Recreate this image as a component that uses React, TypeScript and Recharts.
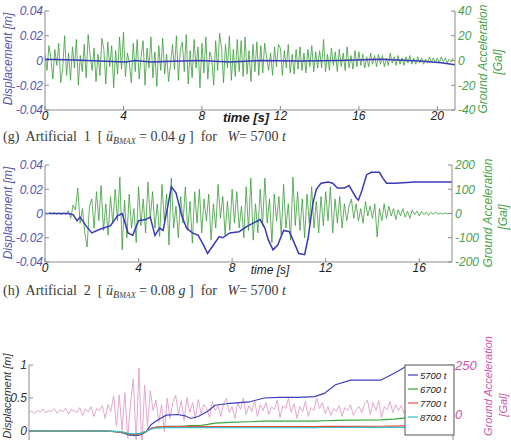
import { ComposedChart, Line, XAxis, YAxis } from "recharts";

const SANS = '"Liberation Sans", Arial, sans-serif';
const SERIF = '"Liberation Serif", "Times New Roman", serif';
const FRAME = "#8c8c8c";
const BLUE = "#3a3ab8";
const GREEN = "#3c9c3c";
const PINK = "#e3a8d0";
const INDIGO_TXT = "#5656b0";
const GREEN_TXT = "#4aa34a";
const MAGENTA_TXT = "#cc55aa";

// ---- (g) Artificial 1 ----
const time1Ticks = [0, 4, 8, 12, 16, 20];
const disp1Ticks = [-0.04, -0.02, 0, 0.02, 0.04];
const acc1Ticks = [-40, -20, 0, 20, 40];
const acc1Dt = 0.1;
const acc1 = [
  5, -8, 12, 2, -15, 9, -4, 14, -18, -7,
  20, -12, 6, -16, 11, -6, 17, -20, 4, -9,
  13, -14, 21, 4, -8, 10, -17, 5, -12, 18,
  9, -19, 15, -5, 12, -22, 8, -11, 19, -7,
  23, -13, 6, -2, -18, 14, -9, 17, -15, 3,
  16, -20, 10, -6, 19, -14, 7, -21, 12, -8,
  18, -11, 5, -17, -3, 13, -7, 20, -16, 9,
  15, -9, 21, -19, 8, -14, 17, -6, 11, -22,
  14, -10, 19, -15, 7, 1, -20, 16, -8, 22,
  10, -18, 13, -6, 20, -16, 9, -13, 17, -9,
  16, -13, 19, -11, 8, -17, 13, -9, 15, -12,
  12, -10, 14, 2, -8, 6, -12, 11, -5, 13,
  10, -12, 8, -6, 13, -10, 5, -11, 9, -7,
  11, -8, 6, -10, 9, -5, 12, -9, 7, -6,
  8, -6, 17, -9, 5, -8, 10, -4, 7, -9,
  9, -5, 6, -8, 11, -6, 4, -7, 8, -5,
  7, -4, 5, -6, 3, -5, 6, -3, 4, -5,
  5, -3, 4, -5, 2, -4, 6, -2, 3, -4,
  4, -3, 2, -4, 3, -2, 4, -3, 2, -3,
  3, -2, 2, -3, 1, -2, 3, -1, 2, -2,
  2, -2, 3, -1, 2, -2, 1, -1, 2,
];
const disp1Time = [0, 1.5, 2.8, 4.1, 4.6, 5.4, 6.5, 7.9, 9.4, 11, 13, 15, 17.1, 19.1, 20.2, 20.9];
const disp1 = [0.001, 0.0005, -0.0005, -0.0012, 0, -0.0012, -0.0006, 0, -0.0013, 0, -0.0005, 0, 0.001, -0.0004, -0.0018, -0.0035];

// ---- (h) Artificial 2 ----
const time2Ticks = [0, 4, 8, 12, 16];
const acc2Ticks = [-200, -100, 0, 100, 200];
const acc2Dt = 0.1;
const acc2 = [
  2, -3, 4, -2, 5, -4, 3, -6, 4, -5,
  12, -20, 35, 15, 105, -40, 20, -80, -138, 30,
  60, -60, 90, -30, 115, -70, 40, -90, 70, -40,
  100, -30, 150, -150, 55, -100, 80, -60, 20, -120,
  110, -50, 60, -80, 130, -20, 90, -60, 40, -95,
  120, -30, 80, -130, 146, -60, 30, -100, 70, -40,
  110, -70, 50, -122, 90, -40, 100, -80, 60, -30,
  80, -110, 40, -60, 120, -20, 70, -90, 50, -70,
  100, -40, 90, -60, 30, -100, 110, -70, 146, -110,
  40, -80, 100, -50, 146, -40, 60, -120, 80, -30,
  70, -90, 120, -60, 40, -110, 150, -50, 90, -70,
  60, -100, 80, -40, 110, -60, 50, -80, 70, -50,
  90, -30, 110, -80, 60, -40, 70, -60, 40, -30,
  30, 60, -20, 40, -30, 20, -40, 50, -10, 30,
  -20, 40, -97, 20, -30, 40, -20, 30, -10, 20,
  -25, 15, -10, 20, -15, 10, -20, 15, -5, 10,
  -10, 8, -5, 6, -8, 5, -4, 6, -3, 2,
  -3, 2, -1, 1, 0,
];
const disp2Time = [
  0, 0.5, 1.0, 1.2, 1.37, 1.5, 1.75, 2.0, 2.35, 2.8, 3.1, 3.3, 3.55, 3.75, 4.0, 4.3, 4.5, 4.7, 4.9, 5.05,
  5.25, 5.4, 5.6, 5.85, 6.05, 6.3, 6.55, 6.75, 6.95, 7.2, 7.45, 7.6, 7.9, 8.3, 8.6, 8.9, 9.2, 9.4, 9.55, 9.75,
  9.95, 10.2, 10.45, 10.65, 10.85, 11.1, 11.25, 11.45, 11.6, 11.8, 12.1, 12.3, 12.5, 12.8, 13.0, 13.15, 13.3, 13.4, 13.55, 13.75,
  13.95, 14.3, 14.45, 14.6, 15.0, 15.8, 16.5, 17.4,
];
const disp2 = [
  0, 0, 0, -0.001, -0.006, -0.003, -0.01, -0.016, -0.013, -0.01, -0.002, 0, -0.016, -0.018, -0.006, -0.005, -0.003, -0.018, -0.012, -0.014,
  0.006, 0.022, 0.017, -0.002, -0.012, -0.016, -0.018, -0.025, -0.033, -0.026, -0.019, -0.02, -0.016, -0.015, -0.011, -0.008, -0.005, -0.012, -0.022, -0.03,
  -0.026, -0.014, -0.015, -0.024, -0.033, -0.034, -0.02, 0.008, 0.02, 0.025, 0.026, 0.025, 0.021, 0.021, 0.023, 0.018, 0.013, 0.011, 0.019, 0.032,
  0.034, 0.034, 0.029, 0.025, 0.025, 0.026, 0.026, 0.026,
];

// ---- weight comparison (only the upper part is on the page) ----
const time3Ticks = [0, 5, 10, 15, 20];
const disp3Ticks = [0, 0.5, 1];
const acc3Ticks = [0, 250];
const acc3Dt = 0.15;
const acc3 = [
  10, 18, 5, 22, 12, 28, 8, 20, 15, 30, 6, 24, 14, 32, 2, 26, 18, 10, 35, -5,
  28, 12, 40, -10, 30, 20, 45, -20, 50, 15,
  95, -60, 98, -80, 110, -120, 60, 180, -150, 235, -180, 150, -60, 120, 20, 72, -40, 50, -87, 82,
  -20, 60, 98, 0, 70, -30, 85, 10, 60, -20, 75, 5, 50, 30, -15, 65, 20, 45, -10, 55,
  82, 10, 40, -20, 60, 25, 82, 0, 45, 15, 70, -10, 50, 20, 60, 0, 40, 25, 72, -15,
  45, 30, 82, 10, 55, -20, 40, 15, 65, -10, 35, 20, 82, 30, 60, 5, 40, -5, 30, 15,
  45, -10, 35, 20, 50, -5, 25, 40, 10, 55, 72, 0, 60, 20, 70, -15, 40, 25, 65, 10,
  50, 20, 45, 5, 35, 15, 40, 10, 30, 20, 35, 15, 25, 10, 30, 20, 25, 15, 20, 10, 15,
];
const weights = ["5700 t", "6700 t", "7700 t", "8700 t"];
const weightColors = ["#3c3cc4", "#3aa63a", "#f04848", "#30c4c4"];
const disp3Time = [0, 2, 4, 4.6, 5.0, 5.3, 5.6, 5.9, 6.2, 6.5, 6.8, 7.3, 7.9, 8.3, 8.6, 9.0, 9.5, 9.9, 10.7, 11.7, 12.5, 13.3, 14.3, 15.2, 15.7, 16.3, 17.1, 18.7, 19.4, 20.0, 21.0, 22.55];
const disp5700 = [0, 0, 0, -0.01, -0.03, -0.06, -0.07, -0.06, -0.02, 0.1, 0.16, 0.24, 0.25, 0.23, 0.19, 0.22, 0.3, 0.39, 0.42, 0.44, 0.5, 0.51, 0.51, 0.52, 0.57, 0.7, 0.77, 0.77, 0.87, 0.97, 1.0, 1.0];
const disp6700 = [0, 0, 0, -0.01, -0.025, -0.05, -0.06, -0.05, -0.01, 0.04, 0.06, 0.07, 0.07, 0.075, 0.08, 0.08, 0.1, 0.12, 0.13, 0.14, 0.15, 0.15, 0.15, 0.15, 0.155, 0.16, 0.165, 0.17, 0.18, 0.2, 0.21, 0.22];
const disp7700 = [0, 0, 0, -0.008, -0.02, -0.045, -0.055, -0.045, -0.01, 0.04, 0.06, 0.065, 0.065, 0.065, 0.065, 0.065, 0.065, 0.065, 0.065, 0.065, 0.065, 0.066, 0.067, 0.068, 0.069, 0.07, 0.07, 0.072, 0.075, 0.078, 0.08, 0.08];
const disp8700 = [0, 0, 0, -0.006, -0.015, -0.035, -0.045, -0.035, -0.008, 0.03, 0.045, 0.05, 0.05, 0.05, 0.05, 0.05, 0.05, 0.05, 0.05, 0.05, 0.05, 0.051, 0.052, 0.052, 0.053, 0.053, 0.054, 0.054, 0.055, 0.055, 0.055, 0.055];

const accRows = (vals: number[], dt: number) => vals.map((a, i) => ({ t: +(i * dt).toFixed(3), a }));
const dispRows = (ts: number[], vals: number[]) => ts.map((t, i) => ({ t, d: vals[i] }));

const tickStyle = (fill: string, size = 12) => ({ fill, fontSize: size, fontStyle: "italic", fontFamily: SANS });
const blank = () => "";

// bottom + top frame (ticks point inward, like the original MATLAB plots)
function frameAxes(timeTicks: number[], tMax: number, showLabels = true) {
  return [
    <XAxis key="b" xAxisId="b" dataKey="t" type="number" domain={[0, tMax]} ticks={timeTicks} allowDataOverflow
      height={20} tickSize={-4} tickMargin={5} stroke={FRAME} tick={tickStyle("#222")}
      tickFormatter={showLabels ? undefined : blank} />,
    <XAxis key="t" xAxisId="t" orientation="top" dataKey="t" type="number" domain={[0, tMax]} ticks={timeTicks}
      allowDataOverflow height={0} tickSize={-4} stroke={FRAME} tickFormatter={blank} />,
  ];
}

export default function App() {
  const a1 = accRows(acc1, acc1Dt);
  const d1 = dispRows(disp1Time, disp1);
  const a2 = accRows(acc2, acc2Dt);
  const d2 = dispRows(disp2Time, disp2);
  const a3 = accRows(acc3, acc3Dt);
  const d3 = [disp5700, disp6700, disp7700, disp8700].map((v) => dispRows(disp3Time, v));

  const captionStyle = {
    position: "absolute" as const, left: 3, fontFamily: SERIF, fontSize: 14, lineHeight: "16px",
    whiteSpace: "pre" as const, color: "#3a3a3a",
  };
  const subStyle = { fontSize: 10, verticalAlign: "-3px" };

  return (
    <div style={{ position: "absolute", left: 0, top: 0, width: 511, height: 440, overflow: "hidden", background: "#fff" }}>
      {/* (g) */}
      <div style={{ position: "absolute", left: 0, top: 0 }}>
        <ComposedChart width={511} height={130} margin={{ top: 11, right: 0, bottom: 0, left: 0 }}>
          {frameAxes(time1Ticks, 20.9)}
          <YAxis yAxisId="l" width={45} domain={[-0.04, 0.04]} ticks={disp1Ticks} allowDataOverflow
            tickSize={-4} tickMargin={6} stroke={FRAME} tick={tickStyle(INDIGO_TXT)} />
          <YAxis yAxisId="r" orientation="right" width={56} domain={[-40, 40]} ticks={acc1Ticks} allowDataOverflow
            tickSize={-4} tickMargin={7} stroke={FRAME} tick={tickStyle(GREEN_TXT)} />
          <Line data={a1} xAxisId="b" yAxisId="r" dataKey="a" stroke={GREEN} strokeWidth={0.8} dot={false} isAnimationActive={false} />
          <Line data={d1} xAxisId="b" yAxisId="l" dataKey="d" stroke={BLUE} strokeWidth={1.5} dot={false} isAnimationActive={false} />
        </ComposedChart>
      </div>

      {/* (h) */}
      <div style={{ position: "absolute", left: 0, top: 154 }}>
        <ComposedChart width={511} height={128} margin={{ top: 11, right: 0, bottom: 0, left: 0 }}>
          {frameAxes(time2Ticks, 17.4)}
          <YAxis yAxisId="l" width={45} domain={[-0.04, 0.04]} ticks={disp1Ticks} allowDataOverflow
            tickSize={-4} tickMargin={6} stroke={FRAME} tick={tickStyle(INDIGO_TXT)} />
          <YAxis yAxisId="r" orientation="right" width={59} domain={[-200, 200]} ticks={acc2Ticks} allowDataOverflow
            tickSize={-4} tickMargin={7} stroke={FRAME} tick={tickStyle(GREEN_TXT)} />
          <Line data={a2} xAxisId="b" yAxisId="r" dataKey="a" stroke={GREEN} strokeWidth={0.8} dot={false} isAnimationActive={false} />
          <Line data={d2} xAxisId="b" yAxisId="l" dataKey="d" stroke={BLUE} strokeWidth={1.5} dot={false} isAnimationActive={false} />
        </ComposedChart>
      </div>

      {/* weight comparison (bottom of the plot runs past the page) */}
      <div style={{ position: "absolute", left: 0, top: 354 }}>
        <ComposedChart width={511} height={130} margin={{ top: 11, right: 0, bottom: 0, left: 0 }}>
          {frameAxes(time3Ticks, 22.55, false)}
          <YAxis yAxisId="l" width={29} domain={[-0.5, 1]} ticks={disp3Ticks} allowDataOverflow
            tickSize={-4} tickMargin={6} stroke={FRAME} tick={tickStyle("#333")} />
          <YAxis yAxisId="r" orientation="right" width={58} domain={[-250, 250]} ticks={acc3Ticks} allowDataOverflow
            tickSize={-4} tickMargin={6} stroke={FRAME} tick={tickStyle(MAGENTA_TXT, 13)} />
          <Line data={a3} xAxisId="b" yAxisId="r" dataKey="a" stroke={PINK} strokeWidth={1} dot={false} isAnimationActive={false} />
          {d3.map((rows, i) => (
            <Line key={weights[i]} data={rows} xAxisId="b" yAxisId="l" dataKey="d" stroke={weightColors[i]}
              strokeWidth={1.2} dot={false} isAnimationActive={false} />
          ))}
        </ComposedChart>
      </div>

      {/* axis titles, legend */}
      <svg width={511} height={440} style={{ position: "absolute", left: 0, top: 0, pointerEvents: "none" }}>
        <g fontFamily={SANS} fontStyle="italic">
          <text x={8} y={59} transform="rotate(-90 8 59)" textAnchor="middle" dominantBaseline="central" fontSize={12} fill={INDIGO_TXT}>Displacement [m]</text>
          <text x={483} y={59} transform="rotate(-90 483 59)" textAnchor="middle" dominantBaseline="central" fontSize={12} fill={GREEN_TXT}>Ground Acceleration</text>
          <text x={498} y={62} transform="rotate(-90 498 62)" textAnchor="middle" dominantBaseline="central" fontSize={12} fill={GREEN_TXT}>[Gal]</text>
          <text x={246} y={117} textAnchor="middle" dominantBaseline="central" fontSize={13} fontWeight="bold" fill="#222">time [s]</text>

          <text x={8} y={213} transform="rotate(-90 8 213)" textAnchor="middle" dominantBaseline="central" fontSize={12} fill={INDIGO_TXT}>Displacement [m]</text>
          <text x={488} y={213} transform="rotate(-90 488 213)" textAnchor="middle" dominantBaseline="central" fontSize={12} fill={GREEN_TXT}>Ground Acceleration</text>
          <text x={503} y={217} transform="rotate(-90 503 217)" textAnchor="middle" dominantBaseline="central" fontSize={12} fill={GREEN_TXT}>[Gal]</text>
          <text x={270} y={270} textAnchor="middle" dominantBaseline="central" fontSize={12} fill="#222">time [s]</text>

          <text x={7} y={396} transform="rotate(-90 7 396)" textAnchor="middle" dominantBaseline="central" fontSize={11} fill="#333">Displacement [m]</text>
          <text x={488} y={386} transform="rotate(-90 488 386)" textAnchor="middle" dominantBaseline="central" fontSize={11} fill={MAGENTA_TXT}>Ground Acceleration</text>
          <text x={503} y={405} transform="rotate(-90 503 405)" textAnchor="middle" dominantBaseline="central" fontSize={11} fill={MAGENTA_TXT}>[Gal]</text>

          <rect x={405} y={365} width={49} height={70} fill="#fff" stroke="#555" strokeWidth={1} />
          {weights.map((w, i) => (
            <g key={w}>
              <line x1={408} x2={418} y1={375 + i * 14} y2={375 + i * 14} stroke={weightColors[i]} strokeWidth={1.2} />
              <text x={420} y={375 + i * 14} dominantBaseline="central" fontSize={9.5} fill="#222">{w}</text>
            </g>
          ))}
        </g>
      </svg>

      {/* captions */}
      <div style={{ ...captionStyle, top: 129 }}>
        {"(g)  Artificial  1  [ "}<i>ü</i><sub style={subStyle}><i>B</i><span style={{ fontSize: 8 }}><i>MAX</i></span></sub>{" = 0.04 "}<i>g</i>{" ]  for   "}<i>W</i>{"= 5700 "}<i>t</i>
      </div>
      <div style={{ ...captionStyle, top: 283 }}>
        {"(h)  Artificial  2  [ "}<i>ü</i><sub style={subStyle}><i>B</i><span style={{ fontSize: 8 }}><i>MAX</i></span></sub>{" = 0.08 "}<i>g</i>{" ]  for   "}<i>W</i>{"= 5700 "}<i>t</i>
      </div>
    </div>
  );
}
